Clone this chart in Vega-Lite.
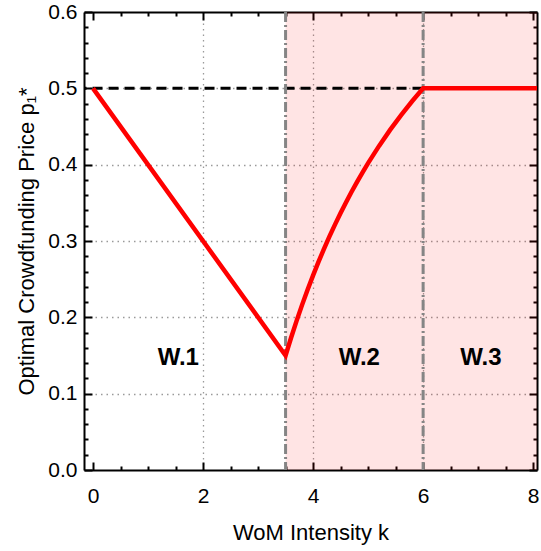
{
  "$schema": "https://vega.github.io/schema/vega-lite/v6.json",
  "width": 453,
  "height": 458,
  "autosize": {"type": "none"},
  "padding": {"left": 84, "top": 12, "right": 4, "bottom": 81},
  "background": "white",
  "config": {
    "view": {"stroke": null},
    "font": "Liberation Sans",
    "axis": {"labelFont": "Liberation Sans", "titleFont": "Liberation Sans", "labelColor": "black", "titleColor": "black", "titleFontWeight": "normal", "domainColor": "black", "domainWidth": 2, "tickColor": "black", "tickWidth": 2}
  },
  "datasets": {
    "curve": [
      {"k": 0, "p": 0.5},
      {"k": 3.5, "p": 0.15},
      {"k": 3.6, "p": 0.1733},
      {"k": 3.7, "p": 0.1954},
      {"k": 3.8, "p": 0.2163},
      {"k": 3.9, "p": 0.2362},
      {"k": 4.0, "p": 0.255},
      {"k": 4.1, "p": 0.2729},
      {"k": 4.2, "p": 0.29},
      {"k": 4.3, "p": 0.3063},
      {"k": 4.4, "p": 0.3218},
      {"k": 4.5, "p": 0.3367},
      {"k": 4.6, "p": 0.3509},
      {"k": 4.7, "p": 0.3645},
      {"k": 4.8, "p": 0.3775},
      {"k": 4.9, "p": 0.39},
      {"k": 5.0, "p": 0.402},
      {"k": 5.2, "p": 0.4246},
      {"k": 5.4, "p": 0.4456},
      {"k": 5.6, "p": 0.465},
      {"k": 5.8, "p": 0.4831},
      {"k": 6.0, "p": 0.5},
      {"k": 8.2, "p": 0.5}
    ],
    "region": [{"k1": 3.5, "k2": 8.2, "p1": 0, "p2": 0.6}],
    "vlines": [{"k": 3.5}, {"k": 6}],
    "hline": [{"k1": -0.3, "k2": 6, "p": 0.5}],
    "labels": [
      {"k": 1.55, "p": 0.147, "t": "W.1"},
      {"k": 4.84, "p": 0.147, "t": "W.2"},
      {"k": 7.05, "p": 0.147, "t": "W.3"}
    ]
  },
  "resolve": {"axis": {"x": "independent", "y": "independent"}},
  "layer": [
    {
      "data": {"name": "region"},
      "mark": {"type": "rect", "color": "#ff0000", "opacity": 0.105, "clip": true},
      "encoding": {
        "x": {
          "field": "k1", "type": "quantitative",
          "scale": {"domain": [-0.164, 8.07], "nice": false, "zero": false},
          "axis": {
            "orient": "bottom",
            "values": [0,0.5,1,1.5,2,2.5,3,3.5,4,4.5,5,5.5,6,6.5,7,7.5,8],
            "labelExpr": "datum.value % 2 === 0 ? format(datum.value, 'd') : ''",
            "labelFontSize": 21,
            "labelPadding": 23,
            "labelFlush": false,
            "labelOverlap": false,
            "tickSize": {"condition": {"test": "datum.value % 2 === 0", "value": -8}, "value": -4},
            "grid": true,
            "gridColor": "#9a9a9a",
            "gridDash": [1.5, 4],
            "gridWidth": 1.3,
            "gridOpacity": {"condition": {"test": "datum.value % 2 === 0 && datum.value > 0 && datum.value < 8", "value": 1}, "value": 0},
            "title": "WoM Intensity k",
            "titleFontSize": 22,
            "titlePadding": 12
          }
        },
        "x2": {"field": "k2"},
        "y": {
          "field": "p1", "type": "quantitative",
          "scale": {"domain": [0, 0.6], "nice": false},
          "axis": {
            "orient": "left",
            "values": [0,0.02,0.04,0.06,0.08,0.1,0.12,0.14,0.16,0.18,0.2,0.22,0.24,0.26,0.28,0.3,0.32,0.34,0.36,0.38,0.4,0.42,0.44,0.46,0.48,0.5,0.52,0.54,0.56,0.58,0.6],
            "format": ".1f",
            "labelExpr": "abs(datum.value*10 - round(datum.value*10)) < 0.001 ? datum.label : ''",
            "labelFontSize": 21,
            "labelPadding": 15,
            "labelFlush": false,
            "labelOverlap": false,
            "tickSize": {"condition": {"test": "abs(datum.value*10 - round(datum.value*10)) < 0.001", "value": -8}, "value": -4},
            "grid": true,
            "gridColor": "#9a9a9a",
            "gridDash": [1.5, 4],
            "gridWidth": 1.3,
            "gridOpacity": {"condition": {"test": "abs(datum.value*10 - round(datum.value*10)) < 0.001 && datum.value > 0.05 && datum.value < 0.55", "value": 1}, "value": 0},
            "title": "Optimal Crowdfunding Price p₁*",
            "titleFontSize": 22,
            "titlePadding": 9
          }
        },
        "y2": {"field": "p2"}
      }
    },
    {
      "data": {"name": "hline"},
      "mark": {"type": "rule", "color": "black", "strokeWidth": 3, "strokeDash": [10, 6], "clip": true},
      "encoding": {
        "x": {"field": "k1", "type": "quantitative", "axis": null},
        "x2": {"field": "k2"},
        "y": {"field": "p", "type": "quantitative", "axis": null}
      }
    },
    {
      "data": {"name": "vlines"},
      "mark": {"type": "rule", "color": "#858585", "strokeWidth": 3, "strokeDash": [10, 3, 2, 3]},
      "encoding": {
        "x": {"field": "k", "type": "quantitative", "axis": null}
      }
    },
    {
      "data": {"name": "curve"},
      "mark": {"type": "line", "color": "#ff0000", "strokeWidth": 4.5, "clip": true},
      "encoding": {
        "x": {
          "field": "k", "type": "quantitative",
          "axis": {
            "orient": "top",
            "values": [0,0.5,1,1.5,2,2.5,3,3.5,4,4.5,5,5.5,6,6.5,7,7.5,8],
            "labels": false,
            "tickSize": {"condition": {"test": "datum.value % 2 === 0", "value": -8}, "value": -4},
            "grid": false,
            "title": null
          }
        },
        "y": {
          "field": "p", "type": "quantitative",
          "axis": {
            "orient": "right",
            "values": [0,0.02,0.04,0.06,0.08,0.1,0.12,0.14,0.16,0.18,0.2,0.22,0.24,0.26,0.28,0.3,0.32,0.34,0.36,0.38,0.4,0.42,0.44,0.46,0.48,0.5,0.52,0.54,0.56,0.58,0.6],
            "labels": false,
            "tickSize": {"condition": {"test": "abs(datum.value*10 - round(datum.value*10)) < 0.001", "value": -8}, "value": -4},
            "grid": false,
            "title": null
          }
        }
      }
    },
    {
      "data": {"name": "labels"},
      "mark": {"type": "text", "font": "Liberation Sans", "fontWeight": "bold", "fontSize": 24, "color": "black", "baseline": "middle", "align": "center"},
      "encoding": {
        "x": {"field": "k", "type": "quantitative", "axis": null},
        "y": {"field": "p", "type": "quantitative", "axis": null},
        "text": {"field": "t"}
      }
    }
  ]
}
